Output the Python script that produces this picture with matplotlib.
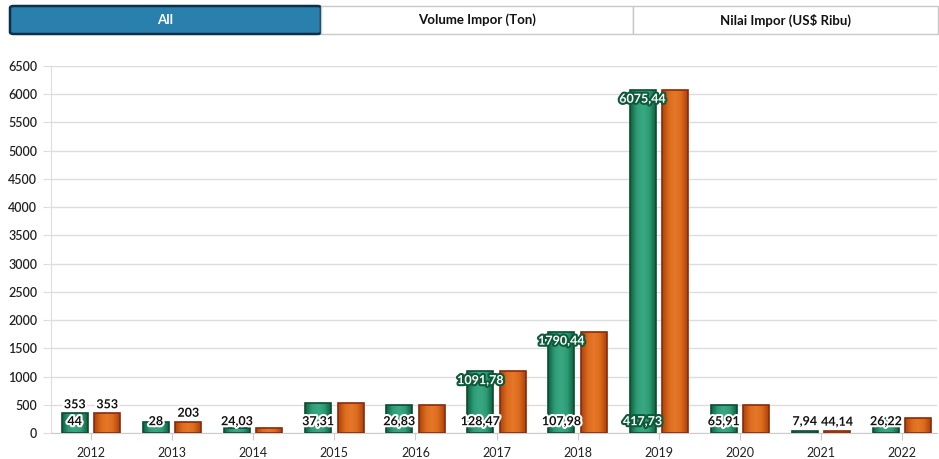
import numpy as np
import matplotlib
matplotlib.use("Agg")
import matplotlib.pyplot as plt
import matplotlib.patheffects as pe
from matplotlib.patches import FancyBboxPatch, Rectangle
from matplotlib.colors import LinearSegmentedColormap

plt.rcParams['font.family'] = ['Lato', 'DejaVu Sans']

# data
years = ['2012', '2013', '2014', '2015', '2016', '2017', '2018', '2019', '2020', '2021', '2022']
nilai = [353, 203, 95, 526, 500, 1091.78, 1790.44, 6075.44, 490, 44.14, 271]
volume_lbl = ['44', '28', '24,03', '37,31', '26,83', '128,47', '107,98', '417,73', '65,91', '7,94', '26,22']
green_top_lbl = ['353', '', '', '', '', '1091,78', '1790,44', '6075,44', '', '', '']
orange_top_lbl = ['353', '203', '', '', '', '', '', '', '', '44,14', '']
tabs = ['All', 'Volume Impor (Ton)', 'Nilai Impor (US$ Ribu)']

W, H = 939, 459
fig = plt.figure(figsize=(W / 100, H / 100), dpi=100)
ax = fig.add_axes([51 / W, 1 - 433 / H, (937 - 51) / W, (433 - 66) / H])

x = np.arange(len(years))
off, bw = 0.2, 0.32

green_cm = LinearSegmentedColormap.from_list('g', ['#10603f', '#2d9c77', '#3aa884', '#2d9c77', '#10603f'])
orange_cm = LinearSegmentedColormap.from_list('o', ['#a8420f', '#dc6a1c', '#e5782a', '#dc6a1c', '#a8420f'])
grad = np.linspace(0, 1, 64).reshape(1, -1)


def shaded_bars(xs, hs, cmap, edge):
    bars = ax.bar(xs, hs, width=bw, color='none', edgecolor=edge, linewidth=1.2, zorder=3)
    for b in bars:
        x0, y0 = b.get_x(), b.get_y()
        im = ax.imshow(grad, cmap=cmap, aspect='auto', zorder=2,
                       extent=[x0, x0 + b.get_width(), y0, y0 + b.get_height()])
        im.set_clip_path(b)
    return bars


shaded_bars(x - off, nilai, green_cm, '#0b4d32')
shaded_bars(x + off, nilai, orange_cm, '#8a2a08')

dark_fx = [pe.withStroke(linewidth=3, foreground='white')]
light_fx = [pe.withStroke(linewidth=3, foreground='#0d5a3a')]

for i in range(len(years)):
    # volume labels near the base of the green bars
    ax.annotate(volume_lbl[i], (x[i] - off, 0), xytext=(0, 8.5), textcoords='offset points',
                ha='center', va='center', fontsize=9, fontweight='bold', zorder=5,
                color='white' if i == 7 else '#111111',
                path_effects=light_fx if i == 7 else dark_fx)
    t = green_top_lbl[i]
    if t:
        if nilai[i] > 800:
            ax.annotate(t, (x[i] - off, nilai[i]), xytext=(0, -2), textcoords='offset points',
                        ha='center', va='top', fontsize=9, fontweight='bold', color='white',
                        path_effects=light_fx, zorder=5)
        else:
            ax.annotate(t, (x[i] - off, nilai[i]), xytext=(0, 2), textcoords='offset points',
                        ha='center', va='bottom', fontsize=9, fontweight='bold', color='#111111',
                        path_effects=dark_fx, zorder=5)
    t = orange_top_lbl[i]
    if t:
        ax.annotate(t, (x[i] + off, nilai[i]), xytext=(0, 2), textcoords='offset points',
                    ha='center', va='bottom', fontsize=9, fontweight='bold', color='#111111',
                    path_effects=dark_fx, zorder=5)

ax.set_xlim(-0.493, 10.43)
ax.set_ylim(0, 6500)
ax.set_yticks(np.arange(0, 6501, 500))
ax.set_xticks(x)
ax.set_xticklabels(years)
ax.grid(axis='y', color='#dddddd', linewidth=1)
ax.set_axisbelow(True)
for s in ['top', 'right']:
    ax.spines[s].set_visible(False)
ax.spines['left'].set_color('#dddddd')
ax.spines['bottom'].set_color('#cccccc')
ax.tick_params(axis='y', length=6, color='#dddddd', labelsize=9, labelcolor='#222222', pad=4)
ax.tick_params(axis='x', length=5, color='#cccccc', labelsize=9, labelcolor='#222222', pad=5)
for lb in ax.get_yticklabels():
    lb.set_fontweight('semibold')

# tab buttons above the chart
tab_x = [10, 321, 633, 938]
y0, y1 = 6, 34
for i, name in enumerate(tabs):
    xa, xb = tab_x[i], tab_x[i + 1]
    if i == 0:
        p = FancyBboxPatch((xa / W, 1 - y1 / H), (xb - xa) / W, (y1 - y0) / H,
                           boxstyle='round,pad=0,rounding_size=0.004', transform=fig.transFigure,
                           facecolor='#2a80ad', edgecolor='#0c2f4a', linewidth=1.8)
        col = 'white'
    else:
        p = Rectangle((xa / W, 1 - y1 / H), (xb - xa) / W, (y1 - y0) / H, transform=fig.transFigure,
                      facecolor='white', edgecolor='#c8c8c8', linewidth=1)
        col = '#111111'
    fig.patches.append(p)
    fig.text((xa + xb) / 2 / W, 1 - (y0 + y1) / 2 / H, name, ha='center', va='center',
             fontsize=9.5, fontweight='bold', color=col)

fig.savefig('out.png', dpi=100)
